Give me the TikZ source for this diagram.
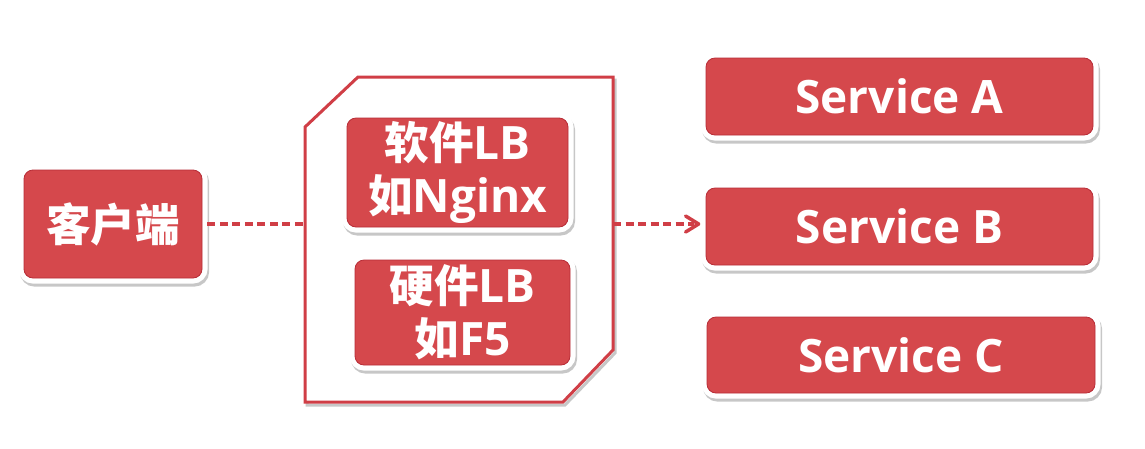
\documentclass[tikz,border=0pt]{standalone}
\usepackage{fontspec}
\setmainfont{Open Sans}[BoldFont={Open Sans Bold}]
\newfontfamily\cjk{Noto Sans CJK SC Bold}[Scale=0.97]
\usetikzlibrary{arrows.meta}
\definecolor{boxred}{RGB}{213,72,76}
\definecolor{edgered}{RGB}{184,44,54}
\definecolor{linered}{RGB}{208,62,70}
\tikzset{
  redbox/.style={rounded corners=9pt, fill=boxred, draw=edgered, line width=0.8pt,
    inner sep=0pt, text=white, align=center,
    font=\fontsize{46}{53}\selectfont\bfseries,
    preaction={draw=black!22, line width=11pt, transform canvas={shift={(1.5pt,-3pt)}}},
    preaction={draw=white, line width=11pt}},
  dashline/.style={draw=linered, line width=3.5pt, dash pattern=on 8pt off 4.5pt},
  outline/.style={draw=linered, line width=3pt, fill=white}
}
\begin{document}
\begin{tikzpicture}[x=1pt,y=-1pt]
\useasboundingbox (0,0) rectangle (1145,448);
% load balancer container
\path[draw=black!22, line width=3pt, transform canvas={shift={(2pt,-3pt)}}]
  (305,127) -- (358,77) -- (613,77) -- (613,350) -- (563,402) -- (305,402) -- cycle;
\path[outline] (305,127) -- (358,77) -- (613,77) -- (613,350) -- (563,402) -- (305,402) -- cycle;
\coordinate (lbin) at (305,224);
\coordinate (lbout) at (613,224);
% nodes
\node[redbox, minimum width=178pt, minimum height=108pt] (client) at (113,224) {{\cjk 客户端}};
\node[redbox, minimum width=221pt, minimum height=109pt] (swlb) at (457.5,172.5) {{\cjk 软件}LB\\{\cjk 如}Nginx};
\node[redbox, minimum width=215pt, minimum height=105pt] (hwlb) at (462.5,312.5) {{\cjk 硬件}LB\\{\cjk 如}F5};
\node[redbox, minimum width=387pt, minimum height=77pt] (sa) at (899.5,96.5) {Service A};
\node[redbox, minimum width=387pt, minimum height=77pt] (sb) at (899.5,226.5) {Service B};
\node[redbox, minimum width=388pt, minimum height=76pt] (sc) at (901,355) {Service C};
% connectors
\draw[dashline] ([xshift=5pt]client.east) -- (lbin);
\draw[dashline] (lbout) -- ([xshift=-12pt]lbout -| sb.west);
\draw[draw=linered, line width=3.5pt, line cap=round, line join=round]
  ([xshift=-20pt,yshift=-8pt]lbout -| sb.west) -- ([xshift=-7pt]lbout -| sb.west) -- ([xshift=-20pt,yshift=8pt]lbout -| sb.west);
\end{tikzpicture}
\end{document}
